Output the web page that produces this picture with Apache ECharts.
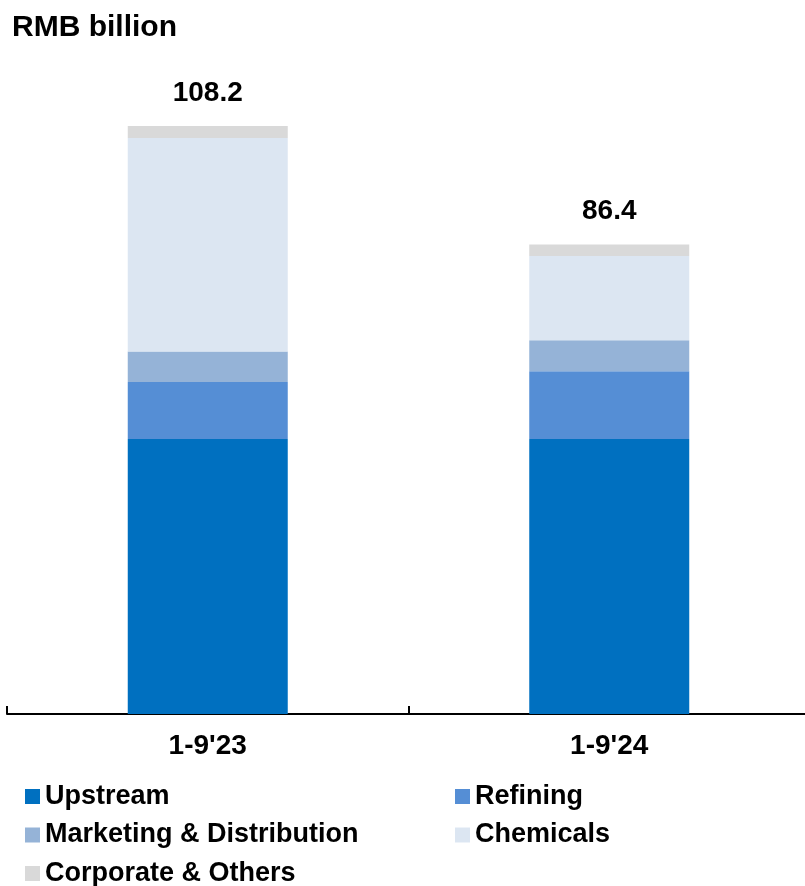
<!DOCTYPE html>
<html>
<head>
<meta charset="utf-8">
<script src="https://cdn.jsdelivr.net/npm/echarts@6/dist/echarts.min.js"></script>
<style>
  html, body { margin: 0; padding: 0; background: #fff; }
  #chart { width: 805px; height: 886px; }
</style>
</head>
<body>
<div id="chart"></div>
<script>
// Capital expenditure by segment, RMB billion
const categories = ["1-9'23", "1-9'24"];
const upstream = [50.6, 50.6];
const refining = [10.5, 12.5];
const marketing = [5.6, 5.7];
const chemicals = [39.3, 15.5];
const corporate = [2.2, 2.1];

const segmentNames = ['Upstream', 'Refining', 'Marketing & Distribution', 'Chemicals', 'Corporate & Others'];
const segmentColors = ['#0070C0', '#558ED5', '#95B3D7', '#DCE6F2', '#D9D9D9'];
const segmentValues = [upstream, refining, marketing, chemicals, corporate];

// Stack totals shown above each bar
const totals = categories.map((_, i) =>
  segmentValues.reduce((s, arr) => s + arr[i], 0));

const FONT = '"Liberation Sans", Arial, sans-serif';

const series = segmentNames.map((name, k) => {
  const s = {
    name: name,
    type: 'bar',
    stack: 'capex',
    barWidth: 160,
    data: segmentValues[k],
    itemStyle: { color: segmentColors[k] },
    emphasis: { disabled: true }
  };
  if (k === segmentNames.length - 1) {
    s.label = {
      show: true,
      position: 'top',
      distance: 19,
      fontFamily: FONT,
      fontWeight: 'bold',
      fontSize: 28,
      color: '#000',
      formatter: p => totals[p.dataIndex].toFixed(1)
    };
  }
  return s;
});

// Legend laid out in two columns, one entry per legend box
const legendText = { fontFamily: FONT, fontWeight: 'bold', fontSize: 27, color: '#000' };
const legendSlots = [
  { name: 'Upstream', left: 25, row: 0 },
  { name: 'Refining', left: 455, row: 0 },
  { name: 'Marketing & Distribution', left: 25, row: 1 },
  { name: 'Chemicals', left: 455, row: 1 },
  { name: 'Corporate & Others', left: 25, row: 2 }
];
const legends = legendSlots.map(slot => ({
  left: slot.left,
  top: 783 + slot.row * 38.5,
  padding: 0,
  itemWidth: 15,
  itemHeight: 15,
  icon: 'rect',
  selectedMode: false,
  data: [slot.name],
  textStyle: legendText
}));

const chart = echarts.init(document.getElementById('chart'), null, { renderer: 'canvas' });
chart.setOption({
  animation: false,
  title: {
    text: 'RMB billion',
    left: 7,
    top: 8,
    textStyle: { fontFamily: FONT, fontWeight: 'bold', fontSize: 30, color: '#000' }
  },
  grid: {
    left: 7, width: 803, top: 62, bottom: 172,
    containLabel: false,
    outerBoundsMode: 'none'
  },
  legend: legends,
  xAxis: {
    type: 'category',
    data: categories,
    boundaryGap: true,
    axisLine: { show: true, lineStyle: { color: '#000', width: 2 } },
    axisTick: { show: true, inside: true, length: 8, lineStyle: { color: '#000', width: 2 } },
    axisLabel: { margin: 18, fontFamily: FONT, fontWeight: 'bold', fontSize: 28, color: '#000' }
  },
  yAxis: {
    type: 'value',
    min: 0,
    max: 120,
    show: false,
    splitLine: { show: false }
  },
  series: series
});
</script>
</body>
</html>
